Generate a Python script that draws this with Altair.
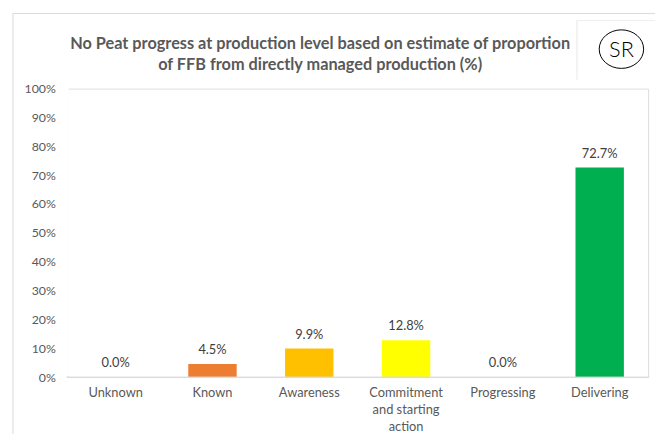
import altair as alt
import pandas as pd

categories = ["Unknown", "Known", "Awareness", "Commitment and starting action", "Progressing", "Delivering"]
values = [0.0, 4.5, 9.9, 12.8, 0.0, 72.7]
colors = ["#A5A5A5", "#ED7D31", "#FFC000", "#FFFF00", "#92D050", "#00B050"]
y_ticks = [0, 10, 20, 30, 40, 50, 60, 70, 80, 90, 100]
title_lines = ["No Peat progress at production level based on estimate of proportion",
               "of FFB from directly managed production (%)"]

df = pd.DataFrame({"cat": categories, "val": values, "color": colors})
df["label"] = [f"{v:.1f}%" for v in values]

FONT = "Lato"
GRAY = "#595959"
W, H = 588, 292

x_enc = alt.X("cat:N", sort=categories, title=None,
              scale=alt.Scale(paddingInner=0.5, paddingOuter=0.25),
              axis=alt.Axis(labelAngle=0, ticks=False, domain=False, grid=False,
                            labelFont=FONT, labelFontSize=13, labelColor=GRAY,
                            labelPadding=10, labelLineHeight=17,
                            labelExpr="datum.label == 'Commitment and starting action' ? ['Commitment','and starting','action'] : datum.label"))
y_enc = alt.Y("val:Q", title=None, scale=alt.Scale(domain=[0, 100]),
              axis=alt.Axis(values=y_ticks, grid=False, domain=False, ticks=False,
                            labelOverlap=False,
                            labelExpr="datum.value + '%'", labelFont=FONT,
                            labelFontSize=12.5, labelColor=GRAY, labelPadding=12))

bars = alt.Chart(df).mark_bar().encode(
    x=x_enc, y=y_enc,
    color=alt.Color("color:N", scale=None, legend=None),
)
texts = alt.Chart(df).mark_text(baseline="bottom", dy=-7, font=FONT, fontSize=13, color="#404040").encode(
    x=x_enc, y=y_enc, text="label:N"
)

deco = pd.DataFrame({"k": [0]})
frame_color = "#D9D9D9"
cover = alt.Chart(deco).mark_rule(color="white", strokeWidth=5).encode(
    x=alt.value(-1), x2=alt.value(-1), y=alt.value(-3), y2=alt.value(H - 1))
baseline = alt.Chart(deco).mark_rule(color=frame_color, strokeWidth=1).encode(
    x=alt.value(-1), x2=alt.value(W + 1), y=alt.value(H), y2=alt.value(H))
left_line = alt.Chart(deco).mark_rule(color=frame_color, strokeWidth=1).encode(
    x=alt.value(-55), x2=alt.value(-55), y=alt.value(-76), y2=alt.value(H + 60))
top_line = alt.Chart(deco).mark_rule(color=frame_color, strokeWidth=1).encode(
    x=alt.value(-55), x2=alt.value(W + 10), y=alt.value(-76), y2=alt.value(-76))
box_left = alt.Chart(deco).mark_rule(color="#E7E7E7", strokeWidth=1).encode(
    x=alt.value(516), x2=alt.value(516), y=alt.value(-69), y2=alt.value(-9))
box_top = alt.Chart(deco).mark_rule(color="#EFEFEF", strokeWidth=1).encode(
    x=alt.value(516), x2=alt.value(W + 10), y=alt.value(-69), y2=alt.value(-69))
ellipse = alt.Chart(deco).mark_point(
    shape="M -1 0 A 1 0.867 0 1 1 1 0 A 1 0.867 0 1 1 -1 0 Z",
    size=2025, filled=False, stroke="#000000", strokeWidth=1, opacity=1).encode(
    x=alt.value(561), y=alt.value(-40))
sr_text = alt.Chart(deco).mark_text(text="SR", font=FONT, fontSize=22, fontWeight=300, color="#000000",
                                    baseline="middle", align="center").encode(
    x=alt.value(561), y=alt.value(-39))
title1 = alt.Chart(deco).mark_text(text=title_lines[0], font=FONT, fontSize=16.5, fontWeight="bold",
                                   color=GRAY, baseline="middle", align="center").encode(
    x=alt.value(256), y=alt.value(-45))
title2 = alt.Chart(deco).mark_text(text=title_lines[1], font=FONT, fontSize=16.5, fontWeight="bold",
                                   color=GRAY, baseline="middle", align="center").encode(
    x=alt.value(256), y=alt.value(-24))

chart = alt.layer(left_line, top_line, box_left, box_top, bars, texts, ellipse, sr_text,
                  title1, title2, cover, baseline).properties(
    width=W, height=H,
    autosize=alt.AutoSizeParams(type="none"),
    padding={"left": 60, "top": 79, "right": 7, "bottom": 55},
).configure_view(stroke="transparent", strokeWidth=0).configure_axisY(domain=False, grid=False, ticks=False).configure(background="white")

chart.save("out.html", embed_options={"renderer": "svg", "actions": False})
